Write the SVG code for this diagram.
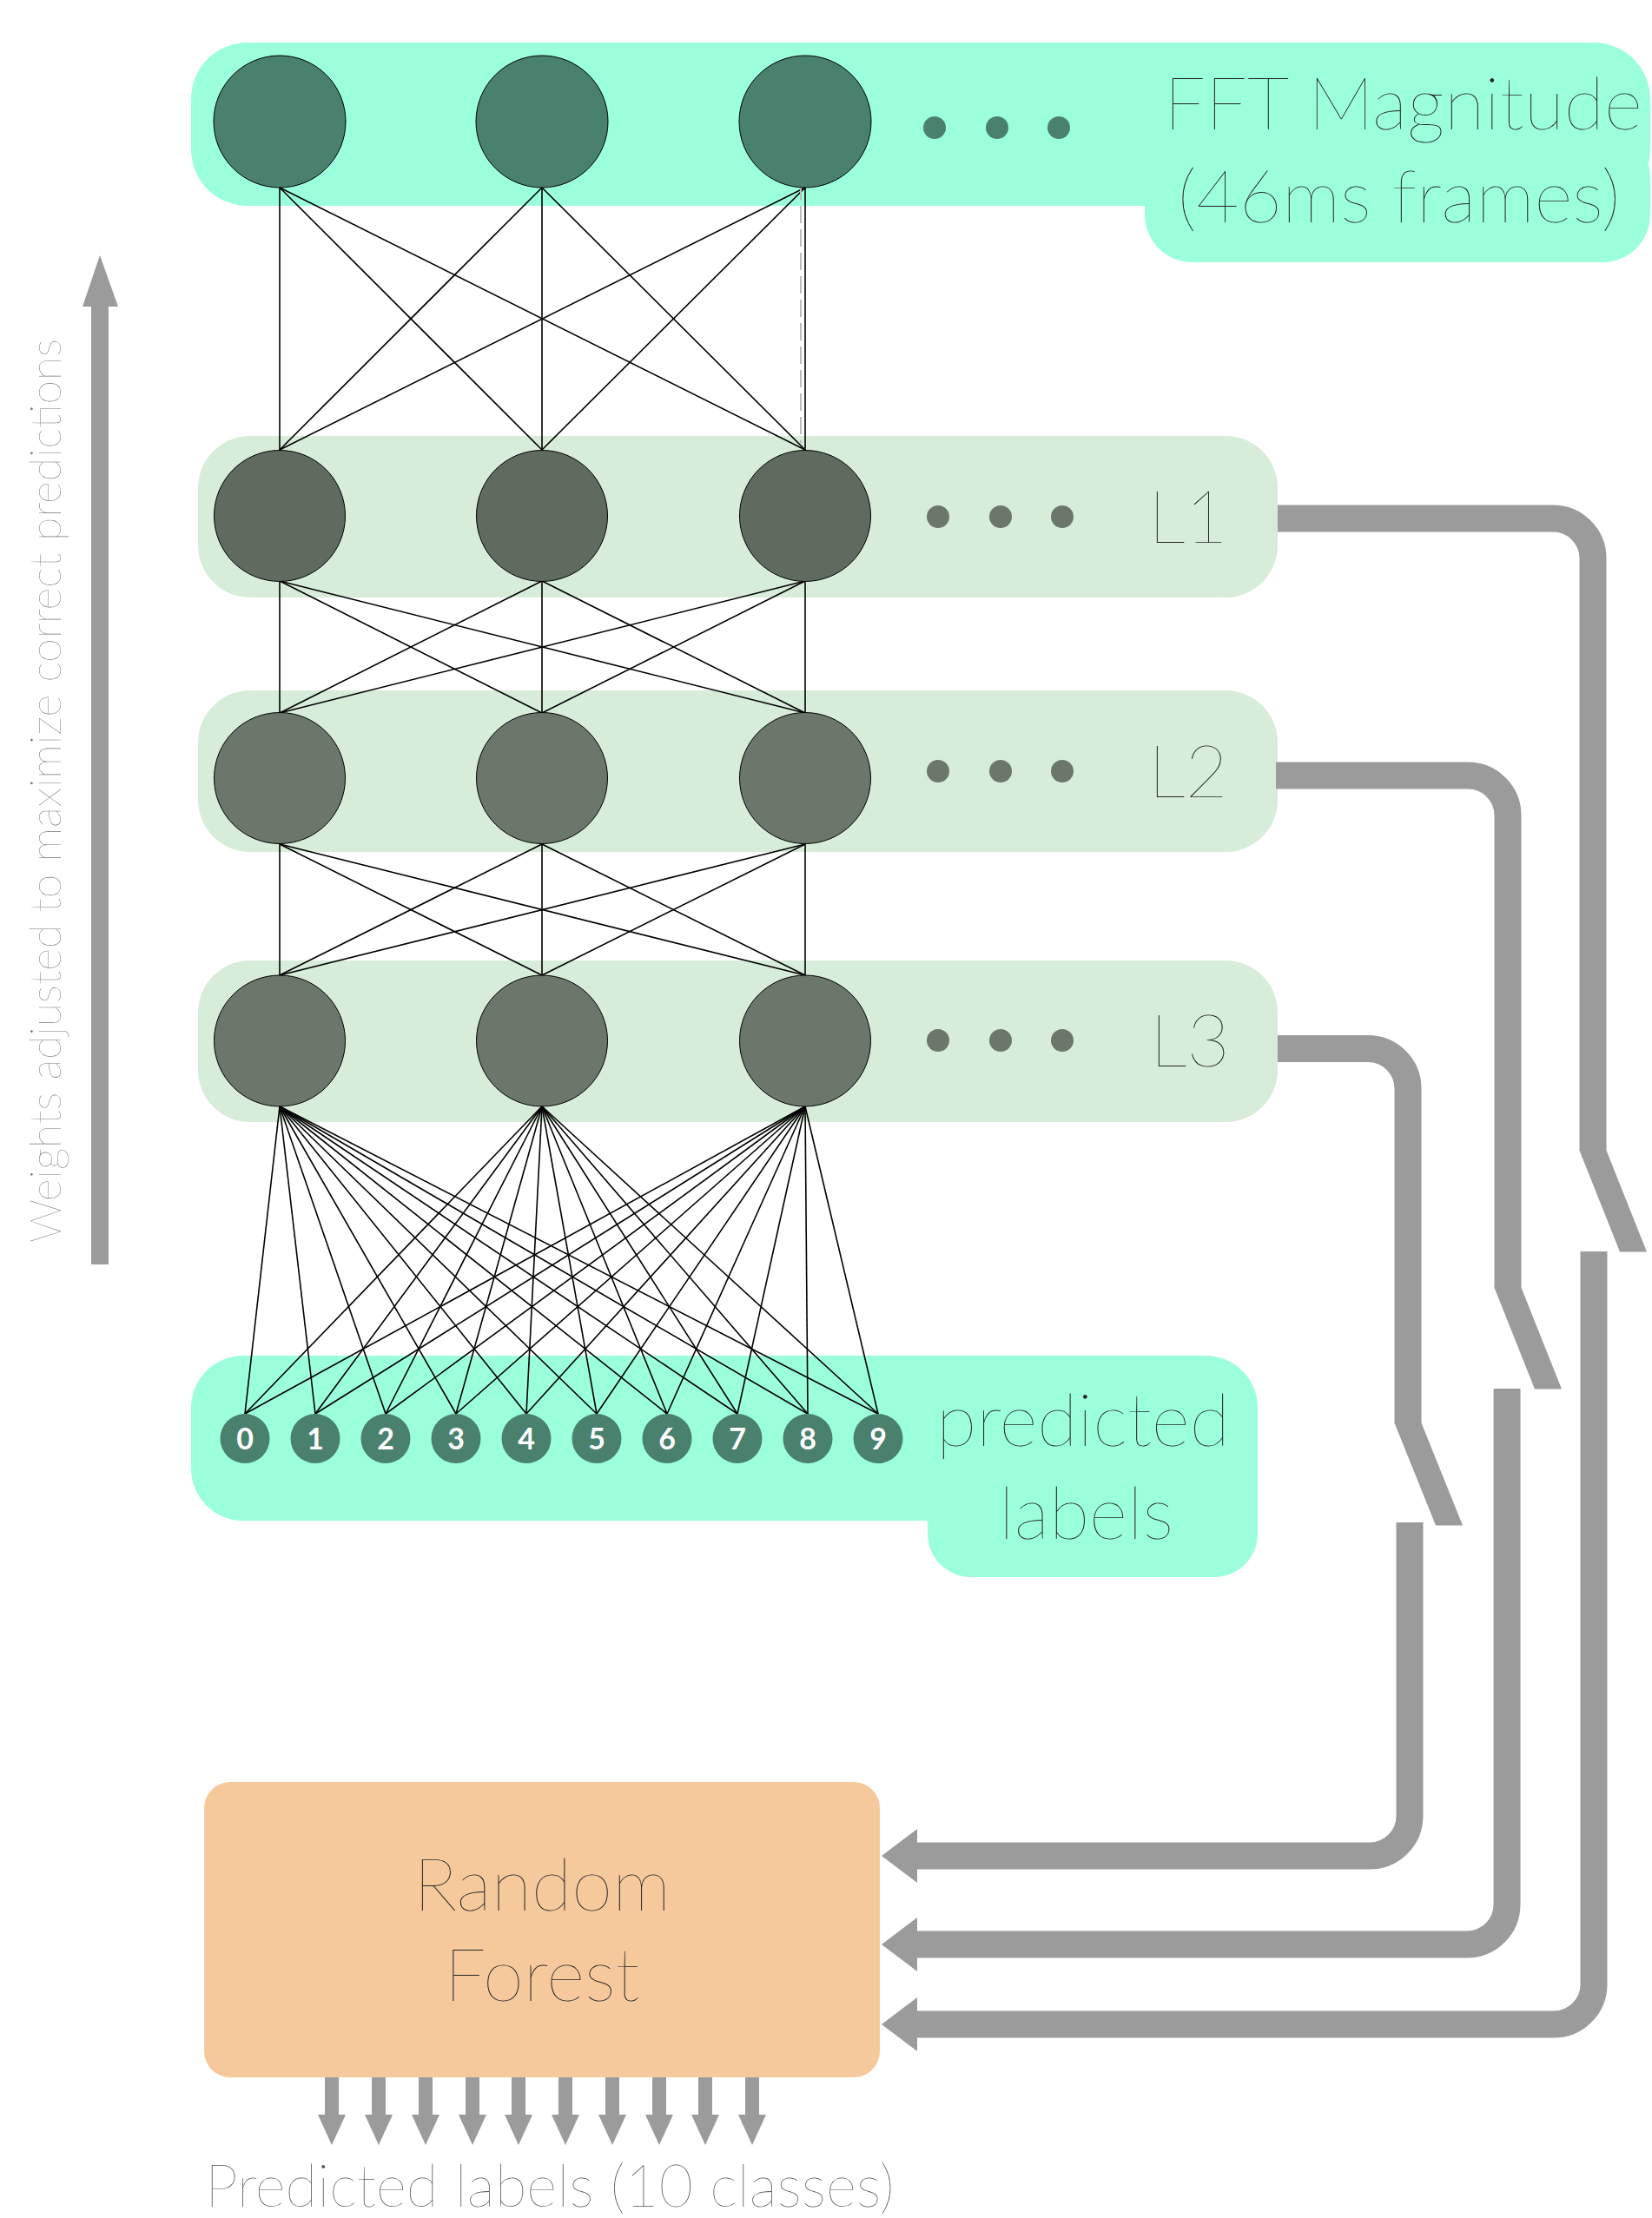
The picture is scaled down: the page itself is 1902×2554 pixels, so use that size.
<svg xmlns="http://www.w3.org/2000/svg" width="1902" height="2554" viewBox="0 0 1902 2554">
<style>
.cyan{fill:#9bffdc}
.lband{fill:#d7ecd9}
.nin{fill:#4a806e;stroke:#000;stroke-width:1}
.n1{fill:#5f6b5f;stroke:#000;stroke-width:1}
.n2{fill:#6b776b;stroke:#000;stroke-width:1}
.dotin{fill:#4a806e}
.dot{fill:#6b776b}
.lbl{fill:#4a806e}
.digit{font-family:Lato,"Liberation Sans",sans-serif;font-weight:700;font-size:34px;fill:#fff;text-anchor:middle}
.big{font-family:Lato,"Liberation Sans",sans-serif;font-weight:100;font-size:85px;fill:#222}
.conn line{stroke:#000;stroke-width:1.6}
.pipe{fill:none;stroke:#9b9b9b;stroke-width:31}
.gfill{fill:#9b9b9b}
</style>

<!-- bands -->
<g id="band-input">
<rect class="cyan" x="220" y="49" width="1680" height="188" rx="65" ry="65"/>
<rect class="cyan" x="1318" y="150" width="582" height="152" rx="55" ry="55"/>
</g>
<g id="band-l1"><rect class="lband" x="228" y="502" width="1243" height="186" rx="60" ry="60"/></g>
<g id="band-l2"><rect class="lband" x="228" y="795" width="1243" height="186" rx="60" ry="60"/></g>
<g id="band-l3"><rect class="lband" x="228" y="1106" width="1243" height="186" rx="60" ry="60"/></g>
<g id="band-output">
<rect class="cyan" x="220" y="1561" width="1228" height="190" rx="60" ry="60"/>
<rect class="cyan" x="1068" y="1650" width="380" height="166" rx="50" ry="50"/>
</g>

<!-- connectors -->
<g id="connectors" class="conn">
<line x1="322" y1="216" x2="322" y2="518"/><line x1="322" y1="216" x2="624" y2="518"/><line x1="322" y1="216" x2="927" y2="518"/>
<line x1="624" y1="216" x2="322" y2="518"/><line x1="624" y1="216" x2="624" y2="518"/><line x1="624" y1="216" x2="927" y2="518"/>
<line x1="927" y1="216" x2="322" y2="518"/><line x1="927" y1="216" x2="624" y2="518"/><line x1="927" y1="216" x2="927" y2="518"/>
<line x1="922" y1="210" x2="922" y2="510" style="stroke:#bbb;stroke-width:2;stroke-dasharray:20 7"/>
<line x1="322" y1="669" x2="322" y2="821"/><line x1="322" y1="669" x2="624" y2="821"/><line x1="322" y1="669" x2="927" y2="821"/>
<line x1="624" y1="669" x2="322" y2="821"/><line x1="624" y1="669" x2="624" y2="821"/><line x1="624" y1="669" x2="927" y2="821"/>
<line x1="927" y1="669" x2="322" y2="821"/><line x1="927" y1="669" x2="624" y2="821"/><line x1="927" y1="669" x2="927" y2="821"/>
<line x1="322" y1="972" x2="322" y2="1123"/><line x1="322" y1="972" x2="624" y2="1123"/><line x1="322" y1="972" x2="927" y2="1123"/>
<line x1="624" y1="972" x2="322" y2="1123"/><line x1="624" y1="972" x2="624" y2="1123"/><line x1="624" y1="972" x2="927" y2="1123"/>
<line x1="927" y1="972" x2="322" y2="1123"/><line x1="927" y1="972" x2="624" y2="1123"/><line x1="927" y1="972" x2="927" y2="1123"/>
<line x1="322" y1="1274" x2="282" y2="1628"/><line x1="322" y1="1274" x2="363" y2="1628"/><line x1="322" y1="1274" x2="444" y2="1628"/><line x1="322" y1="1274" x2="525" y2="1628"/><line x1="322" y1="1274" x2="606" y2="1628"/><line x1="322" y1="1274" x2="687" y2="1628"/><line x1="322" y1="1274" x2="768" y2="1628"/><line x1="322" y1="1274" x2="849" y2="1628"/><line x1="322" y1="1274" x2="930" y2="1628"/><line x1="322" y1="1274" x2="1011" y2="1628"/>
<line x1="624" y1="1274" x2="282" y2="1628"/><line x1="624" y1="1274" x2="363" y2="1628"/><line x1="624" y1="1274" x2="444" y2="1628"/><line x1="624" y1="1274" x2="525" y2="1628"/><line x1="624" y1="1274" x2="606" y2="1628"/><line x1="624" y1="1274" x2="687" y2="1628"/><line x1="624" y1="1274" x2="768" y2="1628"/><line x1="624" y1="1274" x2="849" y2="1628"/><line x1="624" y1="1274" x2="930" y2="1628"/><line x1="624" y1="1274" x2="1011" y2="1628"/>
<line x1="927" y1="1274" x2="282" y2="1628"/><line x1="927" y1="1274" x2="363" y2="1628"/><line x1="927" y1="1274" x2="444" y2="1628"/><line x1="927" y1="1274" x2="525" y2="1628"/><line x1="927" y1="1274" x2="606" y2="1628"/><line x1="927" y1="1274" x2="687" y2="1628"/><line x1="927" y1="1274" x2="768" y2="1628"/><line x1="927" y1="1274" x2="849" y2="1628"/><line x1="927" y1="1274" x2="930" y2="1628"/><line x1="927" y1="1274" x2="1011" y2="1628"/>

<!-- feature pipes to random forest -->
<path class="pipe" d="M1471,597 H1788 A46,46 0 0 1 1834,643 V1324"/>
<polygon class="gfill" points="1818,1323.5 1849,1323.5 1896,1441.5 1865,1441.5"/>
<path class="pipe" d="M1835,1441 V2285 A46,46 0 0 1 1789,2331 H1055"/>
<polygon class="gfill" points="1015,2331 1056,2300 1056,2362"/>

<path class="pipe" d="M1469,893 H1690 A46,46 0 0 1 1736,939 V1482"/>
<polygon class="gfill" points="1720,1481.5 1751,1481.5 1798,1599.5 1767,1599.5"/>
<path class="pipe" d="M1735,1599 V2193 A46,46 0 0 1 1689,2239 H1055"/>
<polygon class="gfill" points="1015,2239 1056,2208 1056,2270"/>

<path class="pipe" d="M1471,1207.5 H1575 A46,46 0 0 1 1621,1253.5 V1639"/>
<polygon class="gfill" points="1605.5,1638.5 1636.5,1638.5 1684,1756.5 1653,1756.5"/>
<path class="pipe" d="M1623,1753 V2091 A46,46 0 0 1 1577,2137 H1055"/>
<polygon class="gfill" points="1015,2137 1056,2106 1056,2168"/>

<!-- left arrow -->
<rect class="gfill" x="105" y="350" width="20" height="1106"/>
<polygon class="gfill" points="115,294 136,353 95,353"/>

<!-- output arrows -->
<g class="gfill">
<rect x="374" y="2392" width="16" height="44"/><polygon points="366,2435 398,2435 382,2470"/>
<rect x="428" y="2392" width="16" height="44"/><polygon points="420,2435 452,2435 436,2470"/>
<rect x="482" y="2392" width="16" height="44"/><polygon points="474,2435 506,2435 490,2470"/>
<rect x="536" y="2392" width="16" height="44"/><polygon points="528,2435 560,2435 544,2470"/>
<rect x="589" y="2392" width="16" height="44"/><polygon points="581,2435 613,2435 597,2470"/>
<rect x="643" y="2392" width="16" height="44"/><polygon points="635,2435 667,2435 651,2470"/>
<rect x="697" y="2392" width="16" height="44"/><polygon points="689,2435 721,2435 705,2470"/>
<rect x="751" y="2392" width="16" height="44"/><polygon points="743,2435 775,2435 759,2470"/>
<rect x="804" y="2392" width="16" height="44"/><polygon points="796,2435 828,2435 812,2470"/>
<rect x="858" y="2392" width="16" height="44"/><polygon points="850,2435 882,2435 866,2470"/>
</g>
</g>

<!-- nodes -->
<g id="input-layer">
<circle class="nin" cx="322" cy="140" r="76"/><circle class="nin" cx="624" cy="140" r="76"/><circle class="nin" cx="927" cy="140" r="76"/>
<circle class="dotin" cx="1076" cy="147" r="13"/><circle class="dotin" cx="1148" cy="147" r="13"/><circle class="dotin" cx="1219" cy="147" r="13"/>
<text class="big" x="1340" y="149">FFT Magnitude</text>
<text class="big" x="1356" y="256">(46ms frames)</text>
</g>
<g id="layer-l1">
<circle class="n1" cx="322" cy="594" r="75.5"/><circle class="n1" cx="624" cy="594" r="75.5"/><circle class="n1" cx="927" cy="594" r="75.5"/>
<circle class="dot" cx="1080" cy="595" r="13"/><circle class="dot" cx="1152" cy="595" r="13"/><circle class="dot" cx="1223" cy="595" r="13"/>
<text class="big" x="1322" y="625">L1</text>
</g>
<g id="layer-l2">
<circle class="n2" cx="322" cy="896" r="75.5"/><circle class="n2" cx="624" cy="896" r="75.5"/><circle class="n2" cx="927" cy="896" r="75.5"/>
<circle class="dot" cx="1080" cy="888" r="13"/><circle class="dot" cx="1152" cy="888" r="13"/><circle class="dot" cx="1223" cy="888" r="13"/>
<text class="big" x="1322" y="918">L2</text>
</g>
<g id="layer-l3">
<circle class="n2" cx="322" cy="1198.5" r="75.5"/><circle class="n2" cx="624" cy="1198.5" r="75.5"/><circle class="n2" cx="927" cy="1198.5" r="75.5"/>
<circle class="dot" cx="1080" cy="1198" r="13"/><circle class="dot" cx="1152" cy="1198" r="13"/><circle class="dot" cx="1223" cy="1198" r="13"/>
<text class="big" x="1324" y="1228">L3</text>
</g>
<g id="output-labels">
<circle class="lbl" cx="282" cy="1656.5" r="28.5"/><text class="digit" x="282" y="1668.5">0</text>
<circle class="lbl" cx="363" cy="1656.5" r="28.5"/><text class="digit" x="363" y="1668.5">1</text>
<circle class="lbl" cx="444" cy="1656.5" r="28.5"/><text class="digit" x="444" y="1668.5">2</text>
<circle class="lbl" cx="525" cy="1656.5" r="28.5"/><text class="digit" x="525" y="1668.5">3</text>
<circle class="lbl" cx="606" cy="1656.5" r="28.5"/><text class="digit" x="606" y="1668.5">4</text>
<circle class="lbl" cx="687" cy="1656.5" r="28.5"/><text class="digit" x="687" y="1668.5">5</text>
<circle class="lbl" cx="768" cy="1656.5" r="28.5"/><text class="digit" x="768" y="1668.5">6</text>
<circle class="lbl" cx="849" cy="1656.5" r="28.5"/><text class="digit" x="849" y="1668.5">7</text>
<circle class="lbl" cx="930" cy="1656.5" r="28.5"/><text class="digit" x="930" y="1668.5">8</text>
<circle class="lbl" cx="1011" cy="1656.5" r="28.5"/><text class="digit" x="1011" y="1668.5">9</text>
<text class="big" x="1078" y="1665">predicted</text>
<text class="big" x="1150" y="1772">labels</text>
</g>
<g id="random-forest">
<rect x="235" y="2052" width="778" height="340" rx="30" ry="30" fill="#f6c99d"/>
<text class="big" x="624" y="2200" text-anchor="middle">Random</text>
<text class="big" x="624" y="2304" text-anchor="middle">Forest</text>
</g>
<g id="captions">
<text x="236" y="2541" style="font-family:Lato,'Liberation Sans',sans-serif;font-weight:100;font-size:67.5px;fill:#555">Predicted labels (10 classes)</text>
<text transform="translate(70,1431) rotate(-90)" style="font-family:Lato,'Liberation Sans',sans-serif;font-weight:100;font-size:50px;fill:#777">Weights adjusted to maximize correct predictions</text>
</g>
</svg>
